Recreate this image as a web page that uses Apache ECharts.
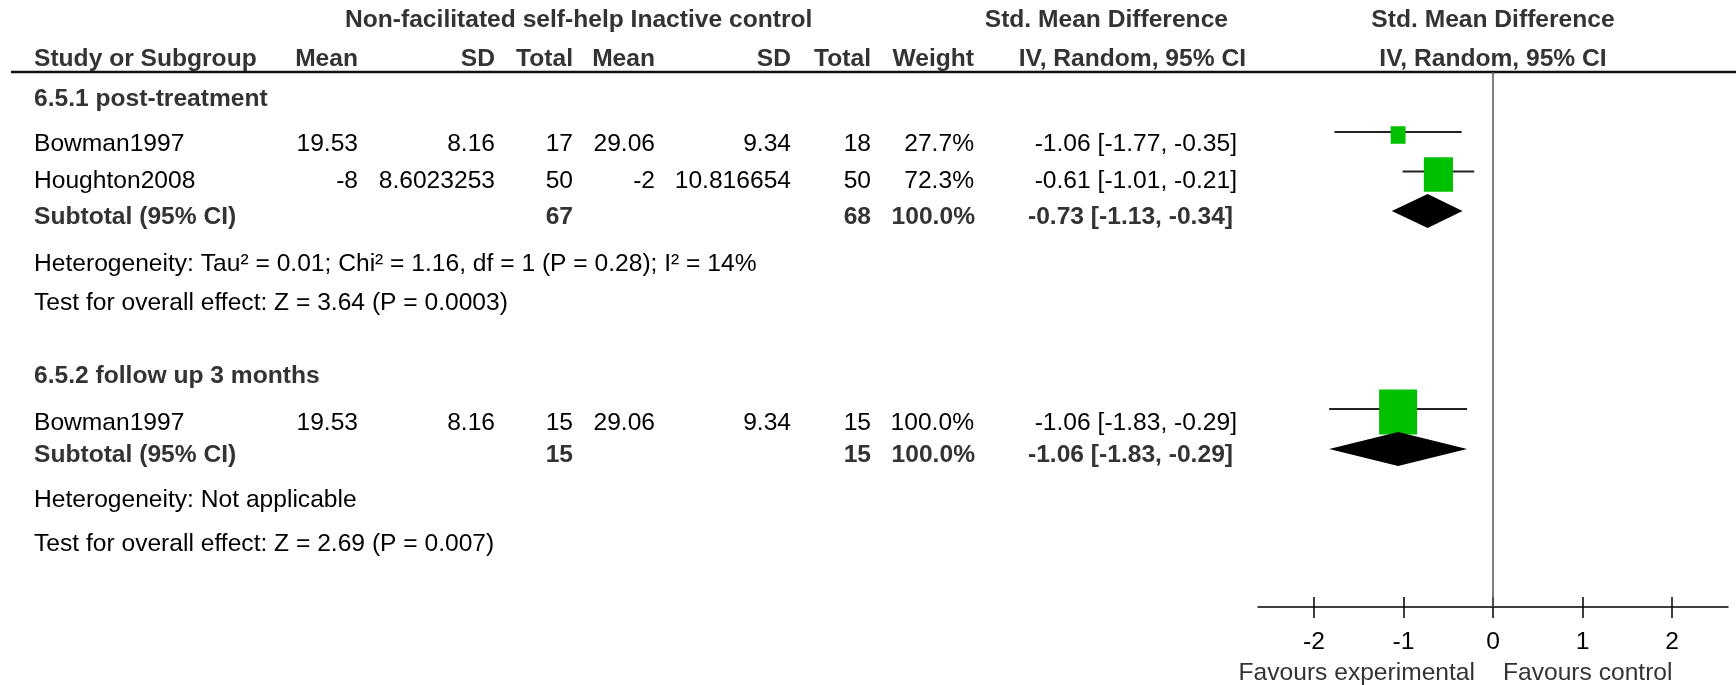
<!DOCTYPE html>
<html>
<head>
<meta charset="utf-8">
<script src="https://cdn.jsdelivr.net/npm/echarts@6/dist/echarts.min.js"></script>
<style>
html,body{margin:0;padding:0;background:#fff;}
#chart{width:1736px;height:685px;}
</style>
</head>
<body>
<div id="chart"></div>
<script>
// ---------- DATA ----------
const groupTitles = ['6.5.1 post-treatment', '6.5.2 follow up 3 months'];
const studyNames = ['Bowman1997', 'Houghton2008', 'Bowman1997'];
const expMean = [19.53, -8, 19.53];
const expSD = [8.16, 8.6023253, 8.16];
const expTotal = [17, 50, 15];
const ctlMean = [29.06, -2, 29.06];
const ctlSD = [9.34, 10.816654, 9.34];
const ctlTotal = [18, 50, 15];
const studyWeight = [27.7, 72.3, 100.0];
const studySMD = [-1.06, -0.61, -1.06];
const studyLow = [-1.77, -1.01, -1.83];
const studyHigh = [-0.35, -0.21, -0.29];
const subExpTotal = [67, 15];
const subCtlTotal = [68, 15];
const subWeight = [100.0, 100.0];
const subSMD = [-0.73, -1.06];
const subLow = [-1.13, -1.83];
const subHigh = [-0.34, -0.29];
const heterogeneityText = ['Heterogeneity: Tau² = 0.01; Chi² = 1.16, df = 1 (P = 0.28); I² = 14%', 'Heterogeneity: Not applicable'];
const overallText = ['Test for overall effect: Z = 3.64 (P = 0.0003)', 'Test for overall effect: Z = 2.69 (P = 0.007)'];
const xTickValues = [-2, -1, 0, 1, 2];
const favoursLeft = 'Favours experimental';
const favoursRight = 'Favours control';

// ---------- LAYOUT ----------
const L = {
  groupRowY: [99.5, 376],
  studyRowY: [144.5, 181, 423],
  subRowY: [217.5, 455],
  hetRowY: [264.5, 500],
  testRowY: [303, 544],
  markStudyY: [132, 171.5, 409],
  markSubY: [211, 449],
  head1Y: 20.5, head2Y: 59.5, lineY: 72, axisY: 607, favY: 673,
  colStudy: 34, colExpMean: 358, colExpSD: 495, colExpN: 573,
  colCtlMean: 655, colCtlSD: 791, colCtlN: 871, colWeight: 974, colCI: 1237,
  plotLeft: 1258, plotRight: 1728, zeroX: 1493
};
const FONT = '"Liberation Sans", Arial, Helvetica, sans-serif';
const FS = 24.6;

function txt(x, y, s, align, bold, color) {
  return {
    type: 'text', x: x, y: y, silent: true,
    style: {
      text: s,
      font: (bold ? 'bold ' : '') + FS + 'px ' + FONT,
      fill: color || (bold ? '#333' : '#000'),
      textAlign: align, align: align,
      textVerticalAlign: 'middle', verticalAlign: 'middle'
    }
  };
}
const fmt2 = v => v.toFixed(2);
const ciStr = (m, lo, hi) => fmt2(m) + ' [' + fmt2(lo) + ', ' + fmt2(hi) + ']';
const wStr = w => w.toFixed(1) + '%';

const g = [];
// headers
g.push(txt(345, L.head1Y, 'Non-facilitated self-help Inactive control', 'left', true));
g.push(txt(1228, L.head1Y, 'Std. Mean Difference', 'right', true));
g.push(txt(L.zeroX, L.head1Y, 'Std. Mean Difference', 'center', true));
g.push(txt(L.colStudy, L.head2Y, 'Study or Subgroup', 'left', true));
g.push(txt(L.colExpMean, L.head2Y, 'Mean', 'right', true));
g.push(txt(L.colExpSD, L.head2Y, 'SD', 'right', true));
g.push(txt(L.colExpN, L.head2Y, 'Total', 'right', true));
g.push(txt(L.colCtlMean, L.head2Y, 'Mean', 'right', true));
g.push(txt(L.colCtlSD, L.head2Y, 'SD', 'right', true));
g.push(txt(L.colCtlN, L.head2Y, 'Total', 'right', true));
g.push(txt(L.colWeight, L.head2Y, 'Weight', 'right', true));
g.push(txt(1246, L.head2Y, 'IV, Random, 95% CI', 'right', true));
g.push(txt(L.zeroX, L.head2Y, 'IV, Random, 95% CI', 'center', true));
g.push({type: 'line', silent: true, shape: {x1: 11, y1: L.lineY, x2: 1736, y2: L.lineY}, style: {stroke: '#111', lineWidth: 2.5}});

// group rows
groupTitles.forEach((t, i) => g.push(txt(L.colStudy, L.groupRowY[i], t, 'left', true)));
// study rows
studyNames.forEach((n, i) => {
  const y = L.studyRowY[i];
  g.push(txt(L.colStudy, y, n, 'left'));
  g.push(txt(L.colExpMean, y, String(expMean[i]), 'right'));
  g.push(txt(L.colExpSD, y, String(expSD[i]), 'right'));
  g.push(txt(L.colExpN, y, String(expTotal[i]), 'right'));
  g.push(txt(L.colCtlMean, y, String(ctlMean[i]), 'right'));
  g.push(txt(L.colCtlSD, y, String(ctlSD[i]), 'right'));
  g.push(txt(L.colCtlN, y, String(ctlTotal[i]), 'right'));
  g.push(txt(L.colWeight, y, wStr(studyWeight[i]), 'right'));
  g.push(txt(L.colCI, y, ciStr(studySMD[i], studyLow[i], studyHigh[i]), 'right'));
});
// subtotal rows
subSMD.forEach((m, i) => {
  const y = L.subRowY[i];
  g.push(txt(L.colStudy, y, 'Subtotal (95% CI)', 'left', true));
  g.push(txt(L.colExpN, y, String(subExpTotal[i]), 'right', true));
  g.push(txt(L.colCtlN, y, String(subCtlTotal[i]), 'right', true));
  g.push(txt(L.colWeight + 1, y, wStr(subWeight[i]), 'right', true));
  g.push(txt(L.colCI - 4, y, ciStr(m, subLow[i], subHigh[i]), 'right', true));
  g.push(txt(L.colStudy, L.hetRowY[i], heterogeneityText[i], 'left'));
  g.push(txt(L.colStudy, L.testRowY[i], overallText[i], 'left'));
});
// favours labels
g.push(txt(1475, L.favY, favoursLeft, 'right', false, '#333'));
g.push(txt(1503, L.favY, favoursRight, 'left', false, '#333'));

// forest data (y = row position from layout)
const studyData = studySMD.map((m, i) => [m, L.markStudyY[i], studyLow[i], studyHigh[i], studyWeight[i]]);
const subData = subSMD.map((m, i) => [m, L.markSubY[i], subLow[i], subHigh[i]]);

const chart = echarts.init(document.getElementById('chart'), null, {renderer: 'canvas'});
const xMin = -2.625, xMax = 2.625;
chart.setOption({
  animation: false,
  backgroundColor: '#fff',
  grid: {left: L.plotLeft, right: 1736 - L.plotRight, top: L.lineY, bottom: 685 - L.axisY, containLabel: false},
  xAxis: [
    {type: 'value', min: xMin, max: xMax, position: 'bottom',
     axisLine: {show: true, onZero: false, lineStyle: {color: '#000', width: 1.5}},
     axisTick: {show: true, inside: true, length: 10, customValues: xTickValues, lineStyle: {color: '#000', width: 1.5}},
     axisLabel: {show: false}, splitLine: {show: false}},
    {type: 'value', min: xMin, max: xMax, position: 'bottom',
     axisLine: {show: false, onZero: false},
     axisTick: {show: true, inside: false, length: 11, customValues: xTickValues, lineStyle: {color: '#000', width: 1.5}},
     axisLabel: {show: true, customValues: xTickValues, margin: 23, color: '#000', fontSize: FS, fontFamily: FONT},
     splitLine: {show: false}}
  ],
  yAxis: {type: 'value', min: L.lineY, max: L.axisY, inverse: true, show: false},
  graphic: {elements: g},
  series: [
    {
      type: 'custom', xAxisIndex: 0, clip: false, data: studyData,
      renderItem: function (params, api) {
        const y = api.value(1);
        const c = api.coord([api.value(0), y]);
        const lo = api.coord([api.value(2), y]);
        const hi = api.coord([api.value(3), y]);
        const w = 6 + 32 * api.value(4) / 100;
        const h = w * 1.18;
        return {type: 'group', children: [
          {type: 'line', shape: {x1: lo[0], y1: lo[1], x2: hi[0], y2: hi[1]}, style: {stroke: '#222', lineWidth: 2}},
          {type: 'rect', shape: {x: c[0] - w / 2, y: c[1] + 3 - h / 2, width: w, height: h}, style: {fill: '#00C000'}}
        ]};
      },
      markLine: {silent: true, symbol: 'none', label: {show: false},
        lineStyle: {color: '#555', width: 1.5, type: 'solid'}, data: [{xAxis: 0}]}
    },
    {
      type: 'custom', xAxisIndex: 0, clip: false, data: subData,
      renderItem: function (params, api) {
        const y = api.value(1);
        const c = api.coord([api.value(0), y]);
        const lo = api.coord([api.value(2), y]);
        const hi = api.coord([api.value(3), y]);
        return {type: 'polygon', shape: {points: [[lo[0], c[1]], [c[0], c[1] - 17], [hi[0], c[1]], [c[0], c[1] + 17]]},
          style: {fill: '#000'}};
      }
    }
  ]
});
</script>
</body>
</html>
